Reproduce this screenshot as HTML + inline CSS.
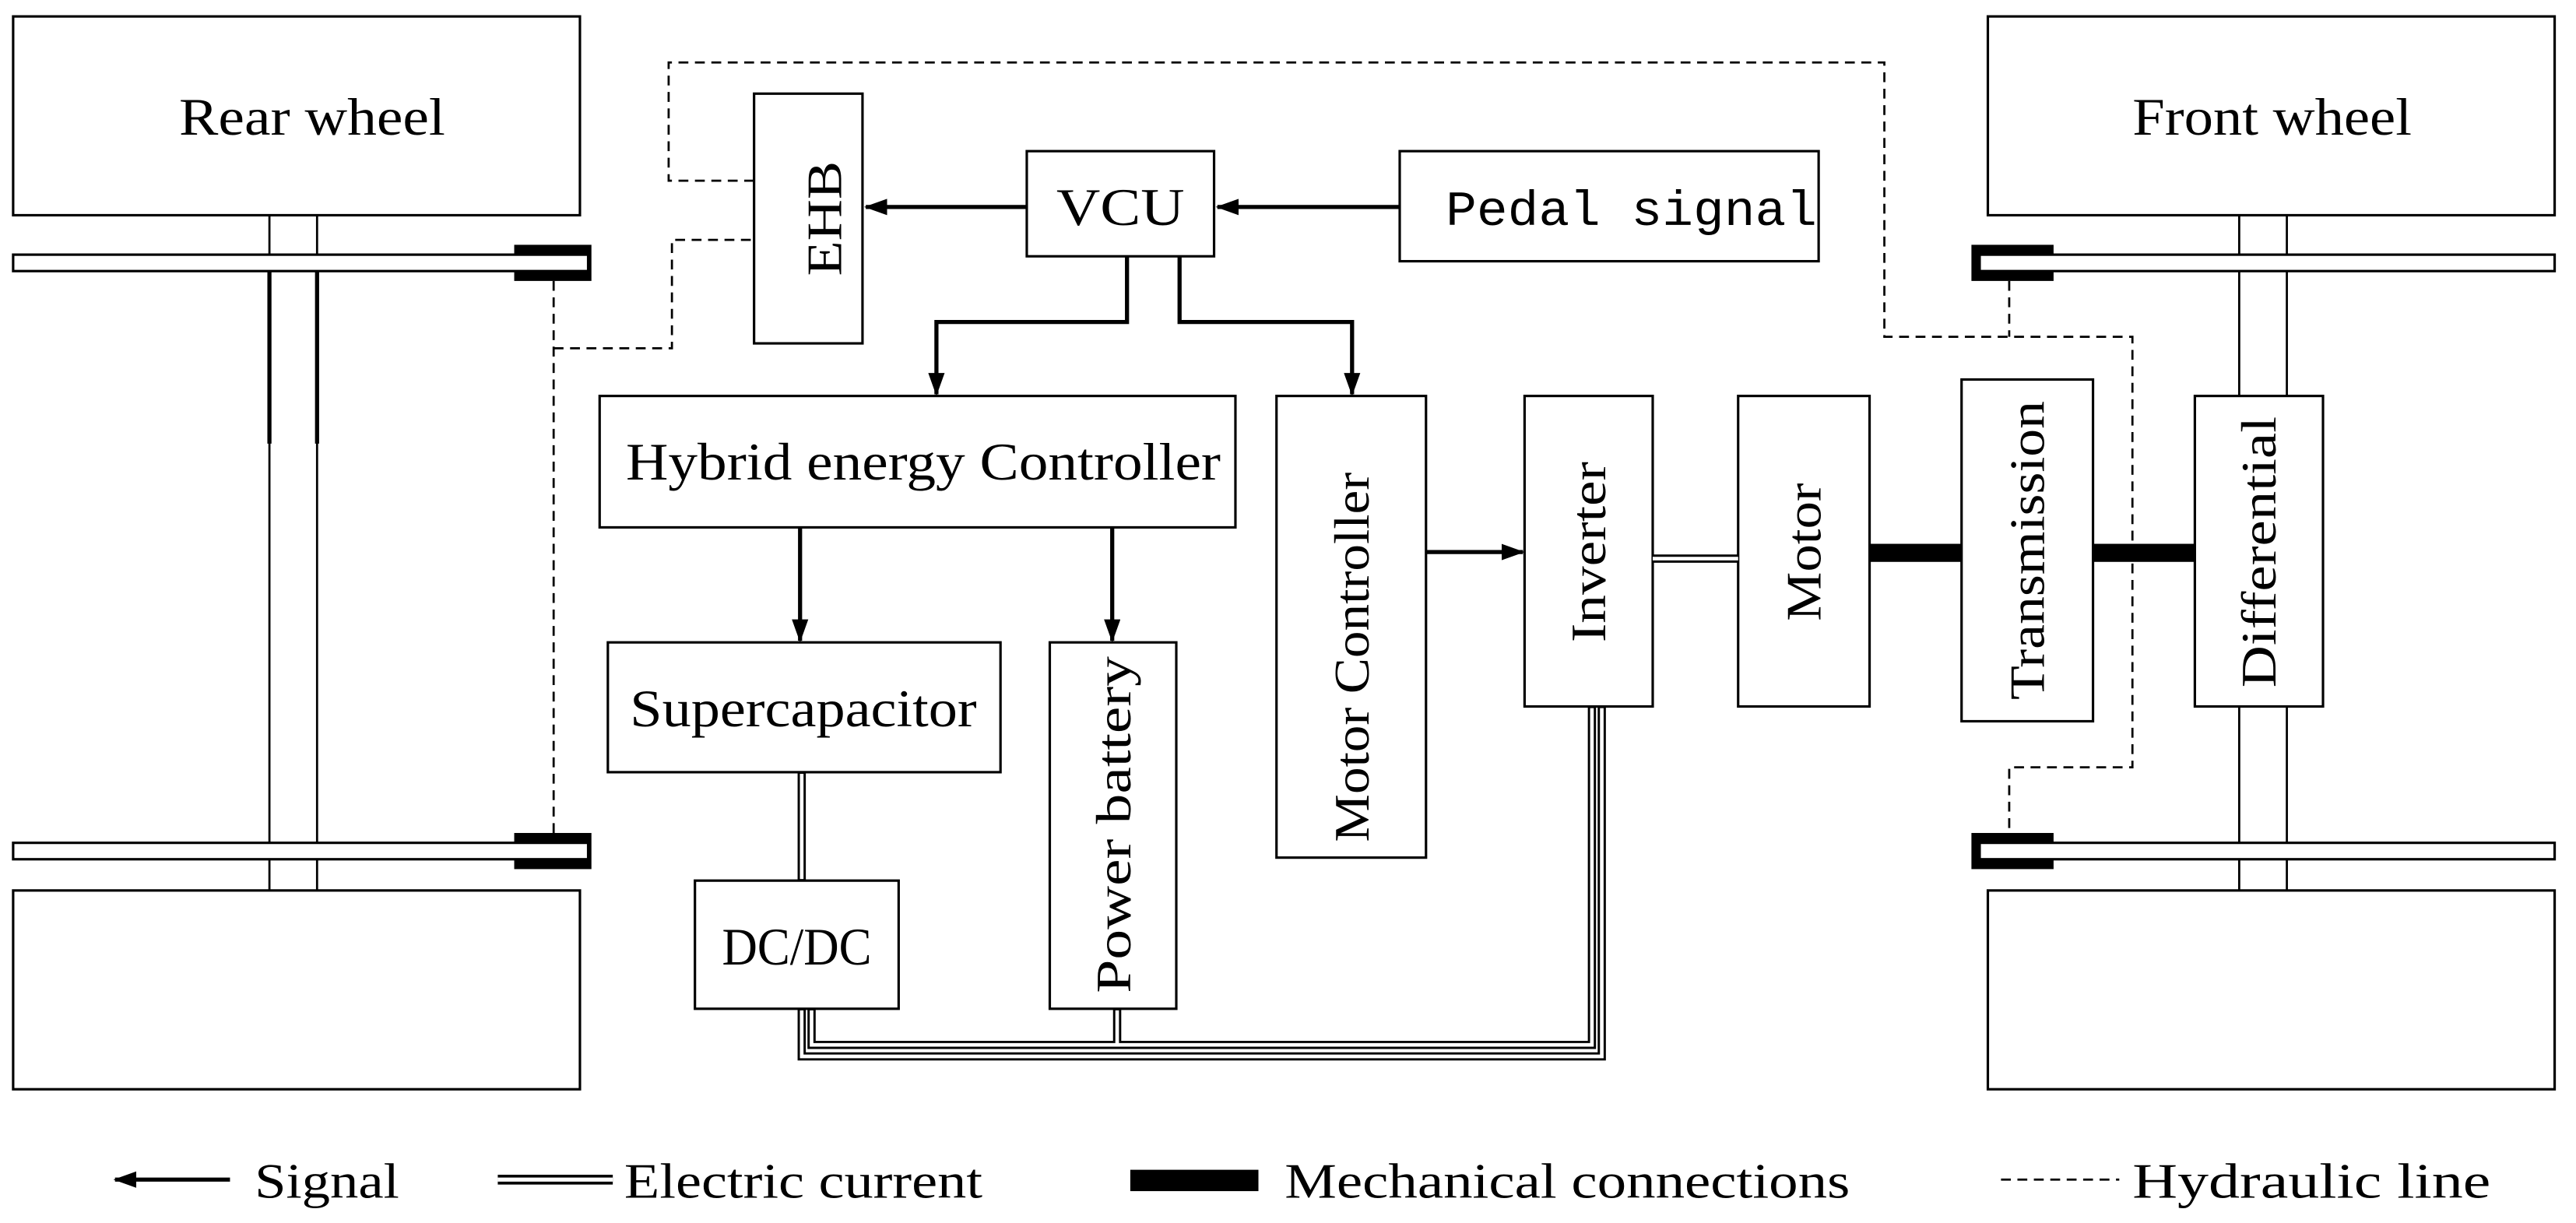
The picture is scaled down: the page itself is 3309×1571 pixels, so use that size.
<!DOCTYPE html>
<html><head><meta charset="utf-8"><style>
html,body{margin:0;padding:0;background:#fff;}
svg{display:block;}
text{font-family:"Liberation Serif",serif;fill:#000;}
text.mono{font-family:"Liberation Mono",monospace;}
</style></head><body>
<svg width="3309" height="1571" viewBox="0 0 1568 744.4" preserveAspectRatio="none" xmlns="http://www.w3.org/2000/svg">
<defs>
<marker id="ar" markerWidth="14" markerHeight="10" refX="13" refY="5" orient="auto" markerUnits="userSpaceOnUse">
<path d="M0,0 L14,5 L0,10 z" fill="#000"/>
</marker>
</defs>
<g fill="#fff" stroke="#000" stroke-width="1.5">
<rect x="8" y="10" width="345" height="121"/>
<rect x="8" y="542" width="345" height="121"/>
<rect x="1210" y="10" width="345" height="121"/>
<rect x="1210" y="542" width="345" height="121"/>
</g>
<g stroke="#000" stroke-width="1.3">
<line x1="164" y1="131" x2="164" y2="542" />
<line x1="193" y1="131" x2="193" y2="542" />
<line x1="164" y1="165" x2="164" y2="270" stroke-width="2.5"/>
<line x1="193" y1="165" x2="193" y2="270" stroke-width="2.5"/>
<line x1="1363" y1="131" x2="1363" y2="542" />
<line x1="1392" y1="131" x2="1392" y2="542" />
</g>
<g fill="#000">
<rect x="313" y="149" width="47" height="22"/>
<rect x="313" y="507" width="47" height="22"/>
<rect x="1200" y="149" width="50" height="22"/>
<rect x="1200" y="507" width="50" height="22"/>
</g>
<g fill="#fff" stroke="#000" stroke-width="1.5">
<rect x="8" y="155" width="350" height="10"/>
<rect x="8" y="513" width="350" height="10"/>
<rect x="1205" y="155" width="350" height="10"/>
<rect x="1205" y="513" width="350" height="10"/>
</g>
<g fill="none" stroke="#000" stroke-width="1.3" stroke-dasharray="6,4">
<path d="M337 171 V507"/>
<path d="M337 212 H409 V146 H459"/>
<path d="M459 110 H407 V38 H1147 V205 H1298 V467 H1223 V507"/>
<path d="M1223 171 V205"/>
</g>
<g fill="#fff" stroke="#000" stroke-width="1.5">
<rect x="459" y="57" width="66" height="152"/>
<rect x="625" y="92" width="114" height="64"/>
<rect x="852" y="92" width="255" height="67"/>
<rect x="365" y="241" width="387" height="80"/>
<rect x="777" y="241" width="91" height="281"/>
<rect x="370" y="391" width="239" height="79"/>
<rect x="639" y="391" width="77" height="223"/>
<rect x="423" y="536" width="124" height="78"/>
<rect x="928" y="241" width="78" height="189"/>
<rect x="1058" y="241" width="80" height="189"/>
<rect x="1194" y="231" width="80" height="208"/>
<rect x="1336" y="241" width="78" height="189"/>
</g>
<g fill="none" stroke="#000" stroke-width="2.5" marker-end="url(#ar)">
<path d="M625 126 H527"/>
<path d="M852 126 H741"/>
<path d="M686 156 V196 H570 V240"/>
<path d="M718 156 V196 H823 V240"/>
<path d="M487 321 V390"/>
<path d="M677 321 V390"/>
<path d="M868 336 H927"/>
</g>
<g fill="none" stroke="#000" stroke-width="5">
<path d="M1006 340 H1058"/>
<path d="M488 470 V536"/>
<path d="M488 614 V643 H975 V430"/>
<path d="M494 614 V636 H969 V430"/>
<path d="M680 614 V636"/>
</g>
<g fill="none" stroke="#fff" stroke-width="2.2">
<path d="M1006 340 H1058"/>
<path d="M488 471 V535"/>
<path d="M488 615 V643 H975 V431"/>
<path d="M494 615 V636 H969 V431"/>
<path d="M680 615 V636"/>
</g>
<g fill="#000">
<rect x="1138" y="331" width="56" height="11"/>
<rect x="1274" y="331" width="62" height="11"/>
</g>
<text x="190" y="82" font-size="32" text-anchor="middle" textLength="162" lengthAdjust="spacingAndGlyphs">Rear wheel</text>
<text x="1383" y="82" font-size="32" text-anchor="middle" textLength="170" lengthAdjust="spacingAndGlyphs">Front wheel</text>
<text x="682" y="137" font-size="32" text-anchor="middle" textLength="78" lengthAdjust="spacingAndGlyphs">VCU</text>
<text class="mono" x="880" y="137" font-size="30" textLength="226" lengthAdjust="spacingAndGlyphs">Pedal signal</text>
<text x="562" y="292" font-size="32" text-anchor="middle" textLength="362" lengthAdjust="spacingAndGlyphs">Hybrid energy Controller</text>
<text x="489" y="442" font-size="32" text-anchor="middle" textLength="211" lengthAdjust="spacingAndGlyphs">Supercapacitor</text>
<text x="485" y="587" font-size="32" text-anchor="middle" textLength="91" lengthAdjust="spacingAndGlyphs">DC/DC</text>
<g font-size="30" text-anchor="middle">
<text transform="translate(502 133) rotate(-90)" y="10" textLength="70" lengthAdjust="spacingAndGlyphs">EHB</text>
<text transform="translate(678 502) rotate(-90)" y="10" textLength="205" lengthAdjust="spacingAndGlyphs">Power battery</text>
<text transform="translate(823 400) rotate(-90)" y="10" textLength="225" lengthAdjust="spacingAndGlyphs">Motor Controller</text>
<text transform="translate(967 336) rotate(-90)" y="10" textLength="110" lengthAdjust="spacingAndGlyphs">Inverter</text>
<text transform="translate(1098 336) rotate(-90)" y="10" textLength="84" lengthAdjust="spacingAndGlyphs">Motor</text>
<text transform="translate(1234 335) rotate(-90)" y="10" textLength="182" lengthAdjust="spacingAndGlyphs">Transmission</text>
<text transform="translate(1375 336) rotate(-90)" y="10" textLength="165" lengthAdjust="spacingAndGlyphs">Differential</text>
</g>
<path d="M140 718 H70" stroke="#000" stroke-width="2.5" marker-end="url(#ar)"/>
<text x="155" y="729" font-size="30" textLength="88" lengthAdjust="spacingAndGlyphs">Signal</text>
<path d="M303 718 H373" stroke="#000" stroke-width="6"/>
<path d="M303 718 H373" stroke="#fff" stroke-width="2.5"/>
<text x="380" y="729" font-size="30" textLength="218" lengthAdjust="spacingAndGlyphs">Electric current</text>
<rect x="688" y="712" width="78" height="13" fill="#000"/>
<text x="782" y="729" font-size="30" textLength="344" lengthAdjust="spacingAndGlyphs">Mechanical connections</text>
<path d="M1218 718 H1290" stroke="#000" stroke-width="1.3" stroke-dasharray="6,4"/>
<text x="1298" y="729" font-size="30" textLength="218" lengthAdjust="spacingAndGlyphs">Hydraulic line</text>
</svg>
</body></html>
